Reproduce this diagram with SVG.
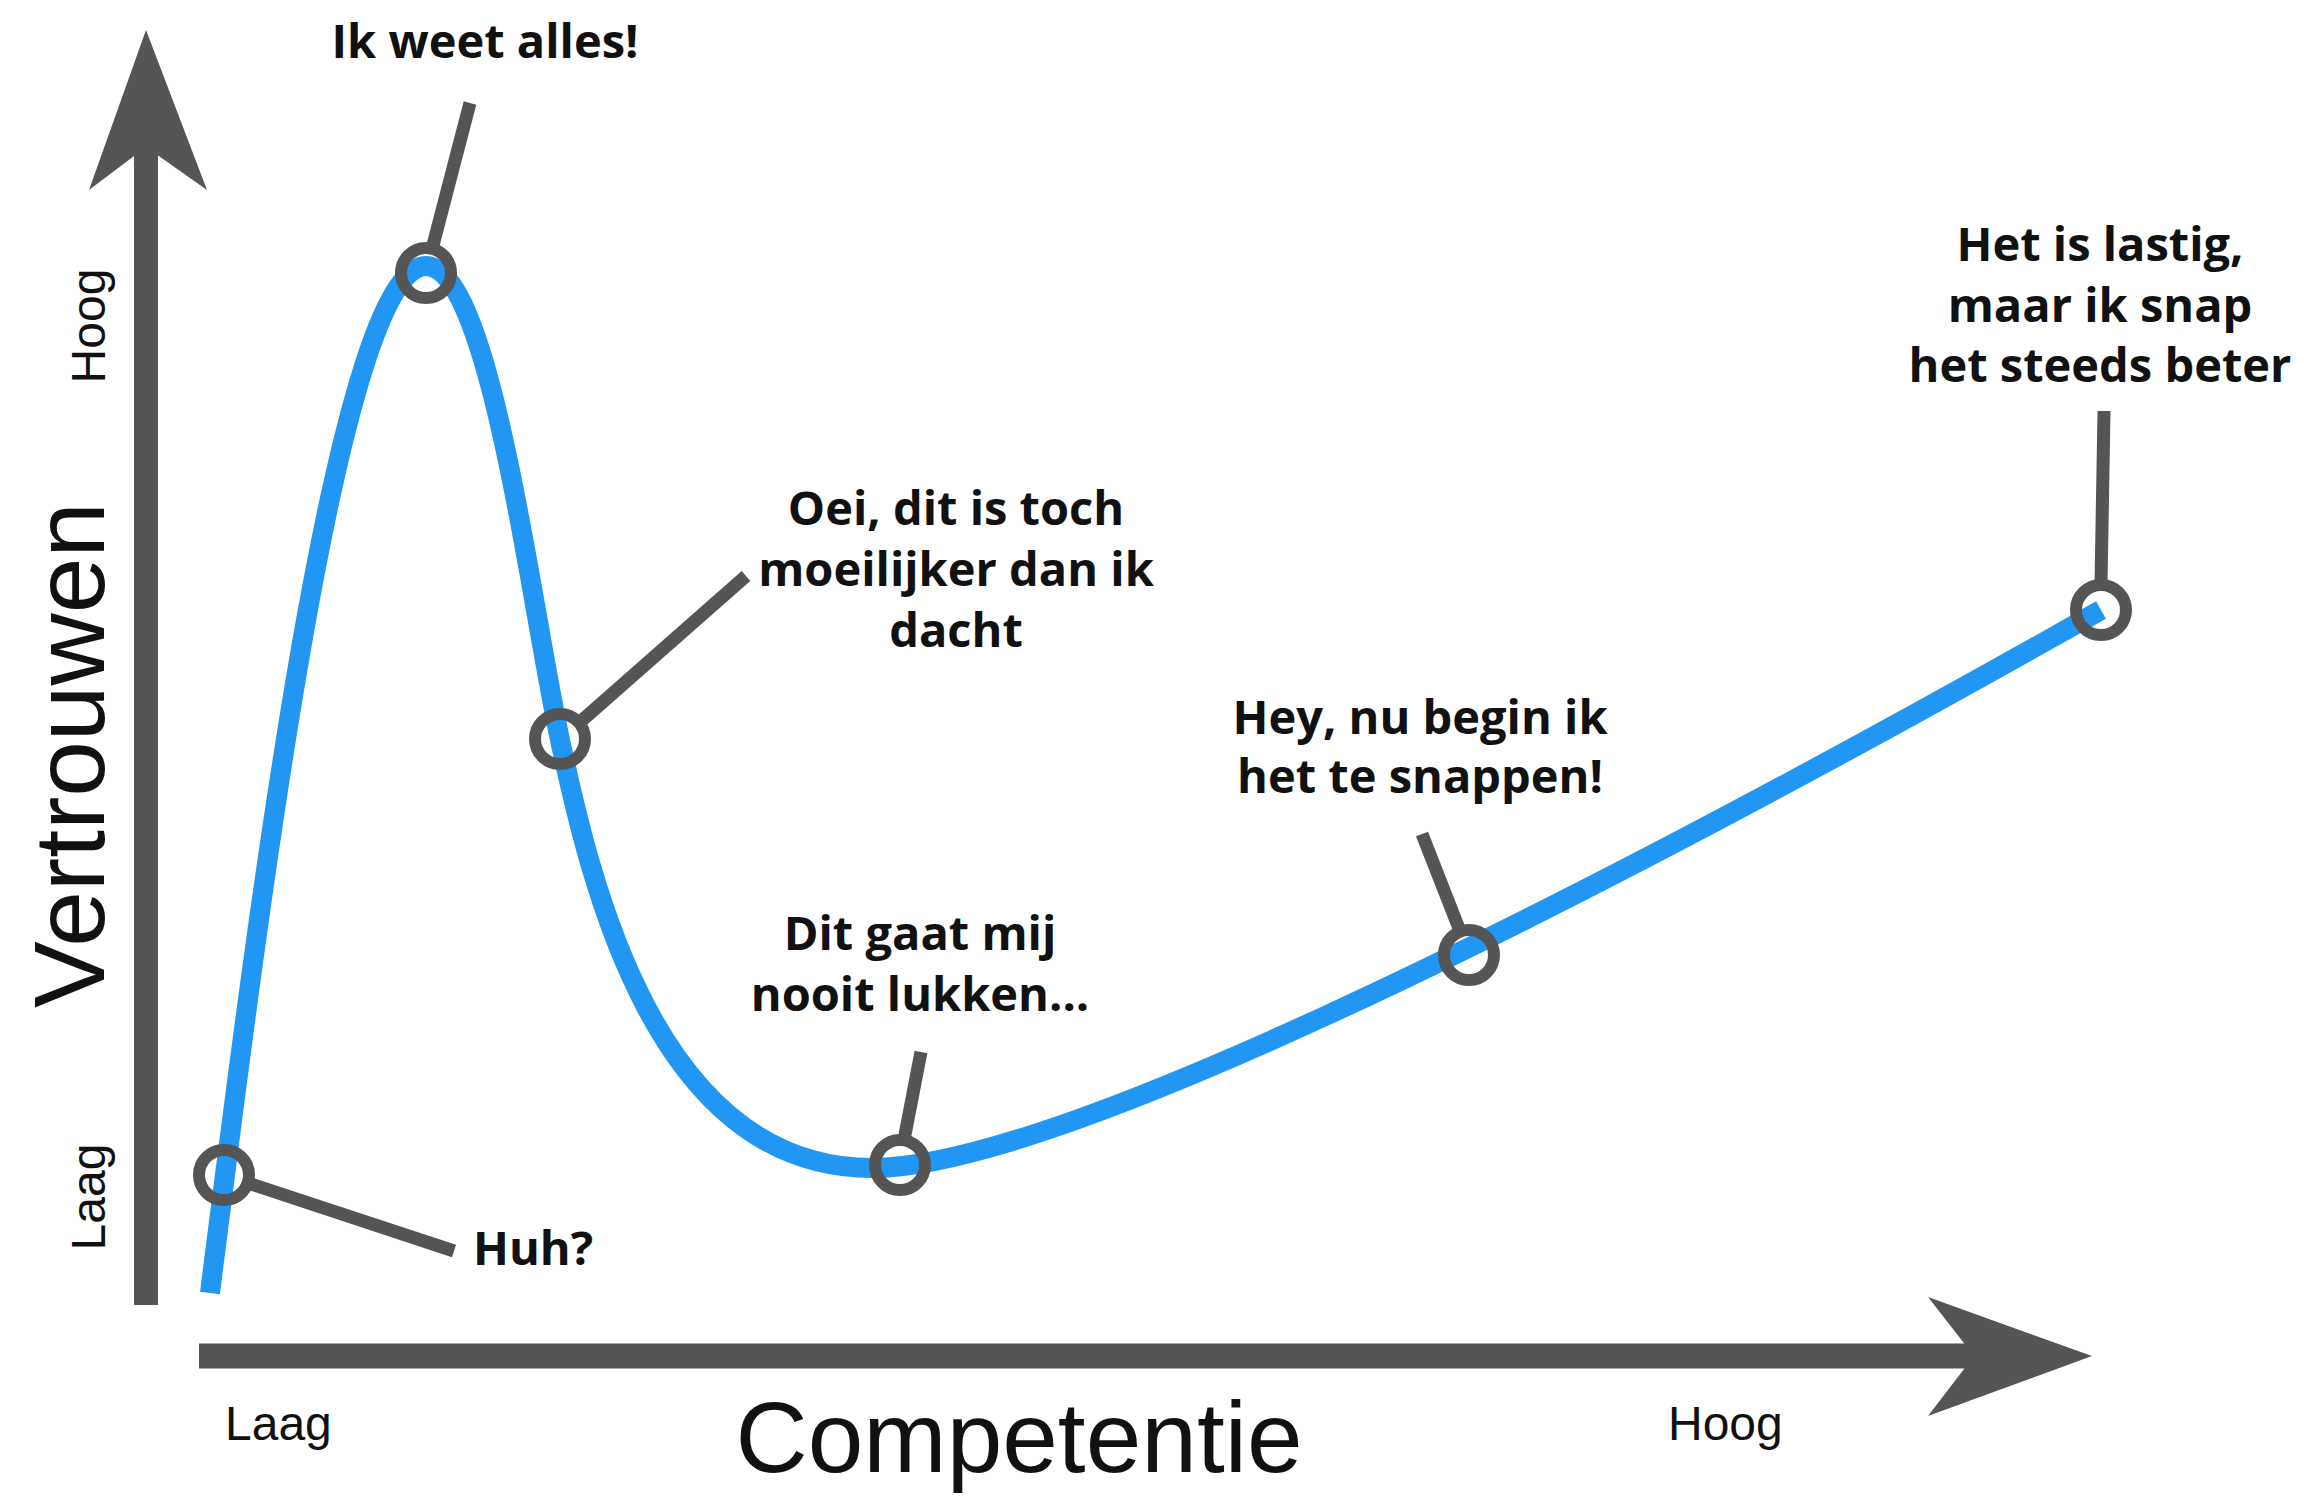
<svg xmlns="http://www.w3.org/2000/svg" width="2304" height="1496" viewBox="0 0 2304 1496">
<style>
.axis{fill:#555555}
.axisline{stroke:#555555;stroke-width:24;fill:none}
.curve{stroke:#2196F3;stroke-width:20;fill:none;stroke-linecap:butt}
.leader{stroke:#555555;stroke-width:13;fill:none;stroke-linecap:butt}
.ring{stroke:#555555;stroke-width:12;fill:none}
.note{font-family:"Open Sans","Liberation Sans",sans-serif;font-weight:700;font-size:47px;fill:#111111;text-anchor:middle}
.ax{font-family:"Liberation Sans",Arial,sans-serif;font-size:48px;fill:#111111}
.title{font-family:"Liberation Sans",Arial,sans-serif;font-size:100px;fill:#111111;text-anchor:middle}
</style>
<rect width="2304" height="1496" fill="#ffffff"/>
<g id="y-axis">
<line class="axisline" x1="146" y1="1305" x2="146" y2="140"/>
<polygon class="axis" points="146,30 207,190 146,147 89,190"/>
</g>
<g id="x-axis">
<line class="axisline" x1="199" y1="1356" x2="1980" y2="1356" style="stroke-width:25"/>
<polygon class="axis" points="2092,1356 1928,1297 1974,1356 1928,1416"/>
</g>
<g id="axis-labels">
<text class="title" transform="translate(104,755) rotate(-90)">Vertrouwen</text>
<text class="title" x="1019" y="1472">Competentie</text>
<text class="ax" text-anchor="middle" transform="translate(105,326) rotate(-90)">Hoog</text>
<text class="ax" text-anchor="middle" transform="translate(105,1197) rotate(-90)">Laag</text>
<text class="ax" x="225" y="1440">Laag</text>
<text class="ax" x="1668" y="1440">Hoog</text>
</g>
<g id="curve">
<path class="curve" d="M 210 1293 C 262 880, 340 266, 426 266 C 490 266, 530 600, 560 740 C 590 880, 655 1168, 872 1168 C 1040 1168, 1500 950, 2101 610"/>
</g>
<g id="connectors">
<line class="leader" x1="248" y1="1183" x2="454" y2="1251"/>
<line class="leader" x1="432" y1="249" x2="470" y2="103"/>
<line class="leader" x1="579" y1="723" x2="746" y2="576"/>
<line class="leader" x1="904" y1="1140" x2="921" y2="1052"/>
<line class="leader" x1="1460" y1="931" x2="1422" y2="834"/>
<line class="leader" x1="2101" y1="585" x2="2104" y2="411"/>
</g>
<g id="node-huh">
<circle class="ring" cx="224" cy="1175" r="25"/>
<text class="note" x="473" y="1265" style="text-anchor:start">Huh?</text>
</g>
<g id="node-ik-weet-alles">
<circle class="ring" cx="426" cy="273" r="25"/>
<text class="note" x="485" y="58">Ik weet alles!</text>
</g>
<g id="node-oei">
<circle class="ring" cx="560" cy="739" r="25"/>
<text class="note" x="956" y="525">Oei, dit is toch</text>
<text class="note" x="956" y="586">moeilijker dan ik</text>
<text class="note" x="956" y="647">dacht</text>
</g>
<g id="node-dit-gaat">
<circle class="ring" cx="900" cy="1165" r="25"/>
<text class="note" x="920" y="950">Dit gaat mij</text>
<text class="note" x="920" y="1011">nooit lukken...</text>
</g>
<g id="node-hey">
<circle class="ring" cx="1469" cy="955" r="25"/>
<text class="note" x="1420" y="734">Hey, nu begin ik</text>
<text class="note" x="1420" y="793">het te snappen!</text>
</g>
<g id="node-lastig">
<circle class="ring" cx="2101" cy="610" r="25"/>
<text class="note" x="2100" y="261">Het is lastig,</text>
<text class="note" x="2100" y="322">maar ik snap</text>
<text class="note" x="2100" y="382">het steeds beter</text>
</g>
</svg>
